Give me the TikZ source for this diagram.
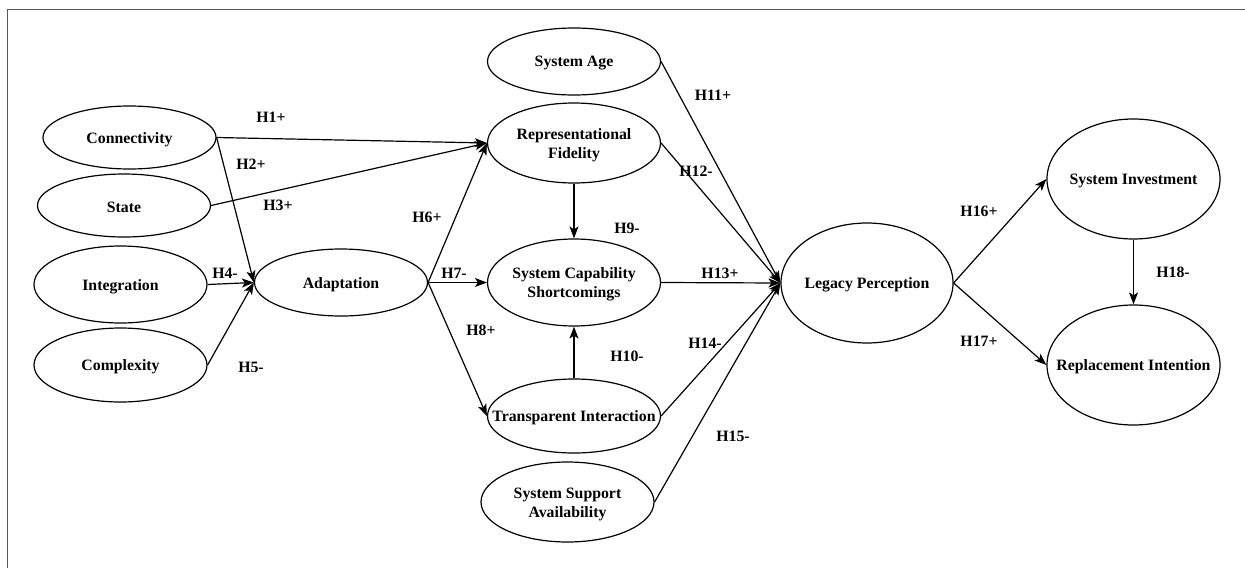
\documentclass[tikz,border=0pt]{standalone}
\usepackage{fontspec}
\setmainfont{Liberation Serif}
\usetikzlibrary{shapes.geometric,arrows.meta}
\tikzset{
  cons/.style={ellipse,draw,line width=1.2pt,inner sep=0pt,minimum width=173pt,
    label={[font=\bfseries\fontsize{15.8}{19}\selectfont,align=center,inner sep=0pt,yshift=-2pt]center:#1}},
  link/.style={line width=1.2pt,-{Stealth[length=12pt,width=9pt,inset=3pt]}},
  hyp/.style={font=\bfseries\fontsize{15.8}{19}\selectfont,inner sep=0pt},
  frame/.style={line width=1.6pt,draw=black!65}
}
\begin{document}
\begin{tikzpicture}[x=1pt,y=-1pt]
\useasboundingbox (0,0) rectangle (1245,568);
\coordinate (fa) at (7.5,568);
\coordinate (fb) at (7.5,9.5);
\coordinate (fc) at (1245,9.5);
\draw[frame] (fa) -- (fb) -- (fc);

\node[cons={Connectivity},minimum height=63pt] (con) at (129.5,137.5) {};
\node[cons={State},minimum height=63pt] (sta) at (124,205.5) {};
\node[cons={Integration},minimum height=77pt] (int) at (120.5,284.5) {};
\node[cons={Complexity},minimum height=74pt] (cpx) at (120.5,365) {};
\node[cons={Adaptation},minimum height=67pt] (ada) at (341,282.5) {};

\node[cons={System Age},minimum height=67pt] (age) at (574,61.5) {};
\node[cons={Representational\\Fidelity},minimum height=80pt] (rep) at (574,143) {};
\node[cons={System Capability\\Shortcomings},minimum height=87pt] (scs) at (574,282.5) {};
\node[cons={Transparent Interaction},minimum height=74pt] (tra) at (574,416) {};
\node[cons={System Support\\Availability},minimum height=80pt] (sup) at (567.5,502) {};

\node[cons={Legacy Perception},minimum width=172pt,minimum height=120pt] (leg) at (867,283) {};
\node[cons={System Investment},minimum height=120pt] (inv) at (1133.5,179) {};
\node[cons={Replacement Intention},minimum height=120pt] (rpl) at (1133.5,365) {};

\draw[link] (con.east) -- (rep.west);
\draw[link] (sta.east) -- (rep.west);
\draw[link] (con.east) -- (ada.west);
\draw[link] (int.east) -- (ada.west);
\draw[link] (cpx.east) -- (ada.west);
\draw[link] (ada.east) -- (rep.west);
\draw[link] (ada.east) -- (scs.west);
\draw[link] (ada.east) -- (tra.west);
\draw[link] (rep.south) -- (scs.north);
\draw[link] (tra.north) -- (scs.south);
\draw[link] (age.east) -- (leg.west);
\draw[link] (rep.east) -- (leg.west);
\draw[link] (scs.east) -- (leg.west);
\draw[link] (tra.east) -- (leg.west);
\draw[link] (sup.east) -- (leg.west);
\draw[link] (leg.east) -- (inv.west);
\draw[link] (leg.east) -- (rpl.west);
\draw[link] (inv.south) -- (rpl.north);

\node[hyp] (h1) at (271,117) {H1+};
\node[hyp] (h2) at (251,164) {H2+};
\node[hyp] (h3) at (278,205) {H3+};
\node[hyp] (h4) at (225,273) {H4-};
\node[hyp] (h5) at (251,367) {H5-};
\node[hyp] (h6) at (427,217) {H6+};
\node[hyp] (h7) at (454,273) {H7-};
\node[hyp] (h8) at (481,330) {H8+};
\node[hyp] (h9) at (627,228) {H9-};
\node[hyp] (h10) at (627,356) {H10-};
\node[hyp] (h11) at (713,95) {H11+};
\node[hyp] (h12) at (696,171) {H12-};
\node[hyp] (h13) at (720,273) {H13+};
\node[hyp] (h14) at (705,343) {H14-};
\node[hyp] (h15) at (733,436) {H15-};
\node[hyp] (h16) at (979,211) {H16+};
\node[hyp] (h17) at (979,341) {H17+};
\node[hyp] (h18) at (1173,272) {H18-};
\end{tikzpicture}
\end{document}
